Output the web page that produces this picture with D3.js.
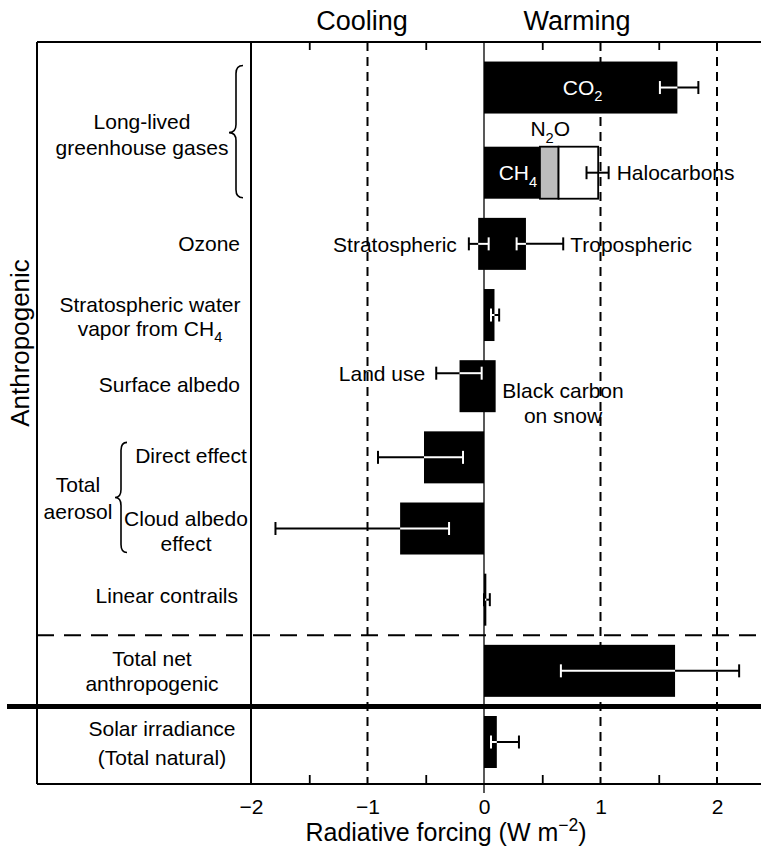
<!DOCTYPE html>
<html><head><meta charset="utf-8">
<script src="https://cdn.jsdelivr.net/npm/d3@7"></script>
<style>
body{margin:0;background:#fff}
svg{display:block}
text{font-family:"Liberation Sans",Arial,Helvetica,sans-serif;fill:#000}
</style>
</head><body>
<svg id="chart" width="761" height="847"></svg>
<script>
// ---------------- DATA ----------------
const rows = ["CO2","LLGHG","Ozone","StratH2O","Albedo","AerDirect","AerCloud","Contrails","TotalNet","Solar"];
const terms = ["CO2","CH4","N2O","Halocarbons","Stratospheric ozone","Tropospheric ozone",
  "Stratospheric water vapor","Land use","Black carbon on snow","Direct effect",
  "Cloud albedo effect","Linear contrails","Total net anthropogenic","Solar irradiance"];
const termRow   = [0,1,1,1,2,2,3,4,4,5,6,7,8,9];
const forcing   = [1.66,0.48,0.16,0.34,-0.05,0.36,0.09,-0.21,0.10,-0.515,-0.72,0.02,1.64,0.11];
const errorLow  = [1.51,null,null,0.88,-0.13,0.28,0.06,-0.41,null,-0.91,-1.79,0.00,0.66,0.06];
const errorHigh = [1.84,null,null,1.07,0.04,0.68,0.13,-0.02,null,-0.18,-0.30,0.05,2.19,0.30];
const xTickValues = [-2,-1,0,1,2];
const xTickLabels = ["\u22122","\u22121","0","1","2"];
const minorTickValues = [-1.5,-0.5,0.5,1.5];
const dashedGridValues = [-1,1,2];

// ---------------- LAYOUT ----------------
const W = 761, H = 847;
const frameL = 37, frameT = 42, frameB = 784;
const FONT = 21;
const svg = d3.select("#chart");

const x = d3.scaleLinear().domain([-2,2]).range([251,717]);
const yP = d3.scalePoint().domain(rows.slice(1)).range([172.7,742]);
const extraGap = 14;
const yc = r => r === "CO2" ? yP(rows[1]) - yP.step() - extraGap : yP(r);
const barH = 52;

// segments with stacking
const segs = terms.map((t,i)=>({term:t,row:rows[termRow[i]],v:forcing[i],lo:errorLow[i],hi:errorHigh[i]}));
const posAcc = {}, negAcc = {};
segs.forEach(s=>{
  if (s.v >= 0){ const b = posAcc[s.row]||0; s.x0=b; s.x1=b+s.v; posAcc[s.row]=s.x1; }
  else { const b = negAcc[s.row]||0; s.x0=b+s.v; s.x1=b; negAcc[s.row]=s.x0; }
});
const fillOf = t => t==="N2O" ? "#bdbdbd" : (t==="Halocarbons" ? "#fff" : "#000");
const strokeOf = t => (t==="N2O"||t==="Halocarbons") ? "#000" : "none";
const errOffset = t => t==="Land use" ? -13 : 0;

// ---------------- GRID / FRAME ----------------
const grid = svg.append("g");
grid.selectAll("line.dash").data(dashedGridValues).join("line")
  .attr("x1",d=>x(d)).attr("x2",d=>x(d)).attr("y1",frameT).attr("y2",frameB)
  .attr("stroke","#000").attr("stroke-width",2).attr("stroke-dasharray","9,6");
// zero line
grid.append("line").attr("x1",x(0)).attr("x2",x(0)).attr("y1",frameT).attr("y2",frameB+9)
  .attr("stroke","#222").attr("stroke-width",1.5);

const sepDash = (yc("Contrails")+yc("TotalNet"))/2;
const sepThick = (yc("TotalNet")+yc("Solar"))/2;
grid.append("line").attr("x1",frameL).attr("x2",W).attr("y1",sepDash).attr("y2",sepDash)
  .attr("stroke","#000").attr("stroke-width",1.8).attr("stroke-dasharray","17,10");

// ---------------- BARS ----------------
svg.append("g").selectAll("rect").data(segs).join("rect")
  .attr("x",d=>x(d.x0)).attr("width",d=>x(d.x1)-x(d.x0))
  .attr("y",d=>yc(d.row)-barH/2).attr("height",barH)
  .attr("fill",d=>fillOf(d.term)).attr("stroke",d=>strokeOf(d.term)).attr("stroke-width",1.8);

// ---------------- ERROR BARS ----------------
const eg = svg.append("g");
const capH = 13;
segs.filter(s=>s.lo!==null).forEach(s=>{
  const yy = yc(s.row)+errOffset(s.term);
  const blacks = segs.filter(b=>b.row===s.row && fillOf(b.term)==="#000");
  eg.append("line").attr("x1",x(s.lo)).attr("x2",x(s.hi)).attr("y1",yy).attr("y2",yy)
    .attr("stroke","#000").attr("stroke-width",2);
  blacks.forEach(b=>{
    const a = Math.max(s.lo,b.x0), c = Math.min(s.hi,b.x1);
    if (c > a) eg.append("line").attr("x1",x(a)).attr("x2",x(c)).attr("y1",yy).attr("y2",yy)
      .attr("stroke","#fff").attr("stroke-width",2);
  });
  [s.lo,s.hi].forEach(v=>{
    const inside = blacks.some(b=>v>b.x0 && v<b.x1);
    eg.append("line").attr("x1",x(v)).attr("x2",x(v)).attr("y1",yy-capH/2).attr("y2",yy+capH/2)
      .attr("stroke",inside?"#fff":"#000").attr("stroke-width",2);
  });
});

// ---------------- FRAME ----------------
const fr = svg.append("g").attr("stroke","#000").attr("stroke-width",2);
fr.append("line").attr("x1",frameL).attr("x2",W).attr("y1",frameT).attr("y2",frameT);
fr.append("line").attr("x1",frameL).attr("x2",frameL).attr("y1",frameT).attr("y2",frameB);
fr.append("line").attr("x1",frameL).attr("x2",W).attr("y1",frameB).attr("y2",frameB);
fr.append("line").attr("x1",x(-2)).attr("x2",x(-2)).attr("y1",frameT).attr("y2",frameB);
svg.append("line").attr("x1",7).attr("x2",W).attr("y1",sepThick).attr("y2",sepThick)
  .attr("stroke","#000").attr("stroke-width",5);

// minor ticks
svg.append("g").attr("transform",`translate(0,${frameB})`)
  .call(d3.axisBottom(x).tickValues(minorTickValues).tickSize(-9).tickFormat(""))
  .call(g=>{g.select(".domain").remove(); g.selectAll("line").attr("stroke-width",1.8);});
svg.append("g").attr("transform",`translate(0,${frameT})`)
  .call(d3.axisTop(x).tickValues(minorTickValues).tickSize(-8).tickFormat(""))
  .call(g=>{g.select(".domain").remove(); g.selectAll("line").attr("stroke-width",1.8);});
// tick labels
svg.append("g").attr("transform",`translate(0,${frameB})`)
  .call(d3.axisBottom(x).tickValues(xTickValues).tickFormat((d,i)=>xTickLabels[i]).tickSize(0).tickPadding(15))
  .call(g=>{g.select(".domain").remove(); g.attr("font-family",null).attr("font-size",null);
    g.selectAll("text").attr("font-size",FONT);});

// ---------------- TEXT HELPERS ----------------
function rich(g, xx, yy, parts, anchor, size){
  const t = g.append("text").attr("x",xx).attr("y",yy).attr("text-anchor",anchor).attr("font-size",size);
  let shift = 0;
  parts.forEach(p=>{
    const [str, kind] = Array.isArray(p) ? p : [p, null];
    const ts = t.append("tspan").text(str);
    let target = 0;
    if (kind==="sub"){ ts.attr("font-size",size*0.7); target = size*0.3; }
    if (kind==="sup"){ ts.attr("font-size",size*0.7); target = -size*0.4; }
    if (target-shift !== 0) ts.attr("dy", target-shift);
    shift = target;
  });
  return t;
}
function lines(g, xx, yCenter, lineArr, anchor, size, lh){
  const n = lineArr.length;
  lineArr.forEach((ln,i)=>{
    const yy = yCenter + (i-(n-1)/2)*lh + size*0.36;
    rich(g, xx, yy, ln, anchor, size);
  });
}

const tg = svg.append("g");
// top labels
lines(tg, 362, 20, [["Cooling"]], "middle", 27, 0);
lines(tg, 577, 20, [["Warming"]], "middle", 27, 0);
// axis title
rich(tg, 446, 841, ["Radiative forcing (W m",["\u22122","sup"],")"], "middle", 25);
// Anthropogenic
tg.append("text").attr("transform",`translate(29,343) rotate(-90)`).attr("text-anchor","middle")
  .attr("font-size",26).text("Anthropogenic");

// row labels
const LH = 26;
lines(tg, 142, (yc("CO2")+yc("LLGHG"))/2+4, [["Long-lived"],["greenhouse gases"]], "middle", FONT, LH);
lines(tg, 240, yc("Ozone"), [["Ozone"]], "end", FONT, LH);
lines(tg, 150, yc("StratH2O")+1, [["Stratospheric water"],["vapor from CH",["4","sub"]]], "middle", FONT, 24);
lines(tg, 240, yc("Albedo")-2, [["Surface albedo"]], "end", FONT, LH);
lines(tg, 191, yc("AerDirect")-1.5, [["Direct effect"]], "middle", FONT, LH);
lines(tg, 186, yc("AerCloud")+2, [["Cloud albedo"],["effect"]], "middle", FONT, 25);
lines(tg, 78, (yc("AerDirect")+yc("AerCloud"))/2+5, [["Total"],["aerosol"]], "middle", FONT, 27);
lines(tg, 238, yc("Contrails")-4, [["Linear contrails"]], "end", FONT, LH);
lines(tg, 152, yc("TotalNet"), [["Total net"],["anthropogenic"]], "middle", FONT, 25);
lines(tg, 162, yc("Solar")+1, [["Solar irradiance"],["(Total natural)"]], "middle", FONT, 29);

// braces
function brace(xTip, xArm, y0, y1, yMid){
  const xm=(xTip+xArm)/2, r=8;
  return `M${xArm},${y0} Q${xm},${y0} ${xm},${y0+r} L${xm},${yMid-r} Q${xm},${yMid} ${xTip},${yMid} `+
         `Q${xm},${yMid} ${xm},${yMid+r} L${xm},${y1-r} Q${xm},${y1} ${xArm},${y1}`;
}
const b1y0 = yc("CO2")-22, b1y1 = yc("LLGHG")+25;
svg.append("path").attr("d",brace(229,243,b1y0,b1y1,(b1y0+b1y1)/2+1)).attr("fill","none").attr("stroke","#000").attr("stroke-width",1.6);
const b2y0 = yc("AerDirect")-15, b2y1 = yc("AerCloud")+24;
svg.append("path").attr("d",brace(115,127,b2y0,b2y1,(b2y0+b2y1)/2)).attr("fill","none").attr("stroke","#000").attr("stroke-width",1.6);

// bar annotations
const seg = n => segs.find(s=>s.term===n);
const co2 = seg("CO2");
rich(tg, x((co2.x0+co2.x1)/2)+2, yc("CO2")+FONT*0.36, ["CO",["2","sub"]], "middle", FONT).attr("fill","#fff").selectAll("tspan").attr("fill","#fff");
const ch4 = seg("CH4");
rich(tg, x((ch4.x0+ch4.x1)/2)+6, yc("LLGHG")+FONT*0.36, ["CH",["4","sub"]], "middle", FONT).attr("fill","#fff").selectAll("tspan").attr("fill","#fff");
const n2o = seg("N2O");
rich(tg, x((n2o.x0+n2o.x1)/2)+1, yc("LLGHG")-barH/2-18+FONT*0.36, ["N",["2","sub"],"O"], "middle", FONT);
const halo = seg("Halocarbons");
rich(tg, x(halo.hi)+8, yc("LLGHG")+FONT*0.36, ["Halocarbons"], "start", FONT);
const so = seg("Stratospheric ozone"), to = seg("Tropospheric ozone");
rich(tg, x(so.lo)-12, yc("Ozone")+1+FONT*0.36, ["Stratospheric"], "end", FONT);
rich(tg, x(to.hi)+7, yc("Ozone")+1+FONT*0.36, ["Tropospheric"], "start", FONT);
const lu = seg("Land use");
rich(tg, x(lu.lo)-11, yc("Albedo")+errOffset("Land use")+FONT*0.36, ["Land use"], "end", FONT);
lines(tg, 563, yc("Albedo")+17, [["Black carbon"],["on snow"]], "middle", FONT, 25);
</script>
</body></html>
